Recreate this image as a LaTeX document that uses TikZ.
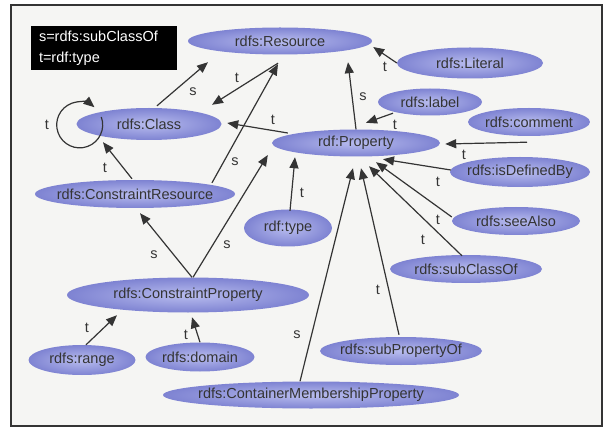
\documentclass[tikz,border=0pt]{standalone}
\usepackage{fontspec}
\setmainfont{Liberation Sans}
\usetikzlibrary{arrows.meta, shapes.geometric}
\definecolor{ellin}{RGB}{184,188,238}
\definecolor{ellout}{RGB}{126,131,210}
\definecolor{inkgray}{RGB}{52,52,52}
\definecolor{paper}{RGB}{245,245,243}
\tikzset{
    ell/.style 2 args={ellipse, inner color=ellin, outer color=ellout,
                      minimum width=#1, minimum height=#2,
                      inner xsep=-14pt, inner ysep=0pt,
                      font=\fontsize{14.5}{17}\selectfont, text=inkgray}
}

\begin{document}
\begin{tikzpicture}[
    x=1pt, y=1pt,
    arr/.style={-{Triangle[length=11pt,width=9pt]}, line width=1.2pt, draw=inkgray},
    lbl/.style={font=\fontsize{14.5}{17}\selectfont, text=inkgray, inner sep=0pt},
    key/.style={fill=black, text=white, align=left, inner xsep=8pt,
                minimum width=146, minimum height=44, text width=130,
                font=\fontsize{14.5}{21}\selectfont}
]
  \useasboundingbox (0,0) rectangle (610,-430);
  \draw[line width=2pt, draw=inkgray, fill=paper] (11,-5) rectangle (602,-426);

  % Legend
  \node[key] (legend) at (104,-48) {s=rdfs:subClassOf\\t=rdf:type};

  % Ellipses
  \node[ell={184}{27}] (res) at (280,-41) {rdfs:Resource};
  \node[ell={146}{31}] (lit) at (470,-63) {rdfs:Literal};
  \node[ell={145}{32}] (cls) at (149,-124) {rdfs:Class};
  \node[ell={104}{27}] (lbl) at (430,-102) {rdfs:label};
  \node[ell={122}{28}] (cmt) at (529,-122) {rdfs:comment};
  \node[ell={168}{27}] (prop) at (356,-143) {rdf:Property};
  \node[ell={140}{30}] (defby) at (520,-172) {rdfs:isDefinedBy};
  \node[ell={200}{28}] (cres) at (135,-194) {rdfs:ConstraintResource};
  \node[ell={88}{37}] (type) at (288,-228) {rdf:type};
  \node[ell={128}{28}] (seealso) at (516,-221) {rdfs:seeAlso};
  \node[ell={152}{28}] (subcls) at (466,-269) {rdfs:subClassOf};
  \node[ell={242}{35}] (cprop) at (188,-295) {rdfs:ConstraintProperty};
  \node[ell={107}{30}] (range) at (82,-360) {rdfs:range};
  \node[ell={109}{29}] (domain) at (200,-357) {rdfs:domain};
  \node[ell={162}{28}] (subprop) at (401,-351) {rdfs:subPropertyOf};
  \node[ell={296}{27}] (cmp) at (311,-395) {rdfs:ContainerMembershipProperty};

  % Arrows
  \draw[arr] ([shift={(25,7)}]cls.west) arc[start angle=20, end angle=-310, radius=23];
  \draw[arr] ([shift={(8,2)}]cls.north) -- ([shift={(-72,-7.5)}]res.south);
  \draw[arr] ([shift={(-2,-8.5)}]res.south) -- ([shift={(63,3)}]cls.north);
  \draw[arr] ([shift={(-3,1)}]cres.north) -- ([shift={(-46,-2)}]cls.south);
  \draw[arr] ([shift={(77,-3)}]cres.north) -- ([shift={(-2,-9.5)}]res.south);
  \draw[arr] ([shift={(16,10)}]prop.west) -- ([shift={(5.5,1)}]cls.east);
  \draw[arr] (prop.north) -- ([shift={(68,-7.5)}]res.south);
  \draw[arr] ([shift={(-37,2.5)}]lbl.south) -- ([shift={(10,6.5)}]prop.north);
  \draw[arr] (lit.west) -- ([shift={(1,-6)}]res.east);
  \draw[arr] ([shift={(-2,-6)}]cmt.south) -- ([shift={(5,-1)}]prop.east);
  \draw[arr] ([shift={(1,2)}]defby.west) -- ([shift={(27,-2.5)}]prop.south);
  \draw[arr] ([shift={(0,4)}]seealso.west) -- ([shift={(20,-5.5)}]prop.south);
  \draw[arr] ([shift={(-4,-1)}]subcls.north) -- ([shift={(13,-9.5)}]prop.south);
  \draw[arr] ([shift={(-2,2)}]subprop.north) -- ([shift={(5,-11.5)}]prop.south);
  \draw[arr] ([shift={(-11,0)}]cmp.north) -- ([shift={(-3,-11.5)}]prop.south);
  \draw[arr] ([shift={(2,-1.5)}]type.north) -- ([shift={(-61,-0.5)}]prop.south);
  \draw[arr] ([shift={(5,0)}]cprop.north) -- ([shift={(-4,-12)}]prop.west);
  \draw[arr] ([shift={(4,0)}]cprop.north) -- ([shift={(5,-5)}]cres.south);
  \draw[arr] ([shift={(4,0)}]range.north) -- ([shift={(-71,-2.5)}]cprop.south);
  \draw[arr] (domain.north) -- ([shift={(4,-4.5)}]cprop.south);

  % Labels
  \node[lbl] (tloop) at (47,-125) {t};
  \node[lbl] (scr) at (193,-92) {s};
  \node[lbl] (trc) at (237,-78) {t};
  \node[lbl] (tcc) at (105,-168) {t};
  \node[lbl] (scres) at (235,-162) {s};
  \node[lbl] (tpc) at (273,-120) {t};
  \node[lbl] (spr) at (363,-97) {s};
  \node[lbl] (tlbl) at (395,-125) {t};
  \node[lbl] (tlit) at (385,-67) {t};
  \node[lbl] (tcmt) at (464,-155) {t};
  \node[lbl] (tdef) at (438,-182) {t};
  \node[lbl] (tsee) at (438,-220) {t};
  \node[lbl] (tsub) at (423,-240) {t};
  \node[lbl] (tsprop) at (378,-290) {t};
  \node[lbl] (scmp) at (297,-335) {s};
  \node[lbl] (ttype) at (302,-193) {t};
  \node[lbl] (scpp) at (227,-245) {s};
  \node[lbl] (scpr) at (154,-255) {s};
  \node[lbl] (trng) at (87,-328) {t};
  \node[lbl] (tdom) at (186,-335) {t};
\end{tikzpicture}
\end{document}
